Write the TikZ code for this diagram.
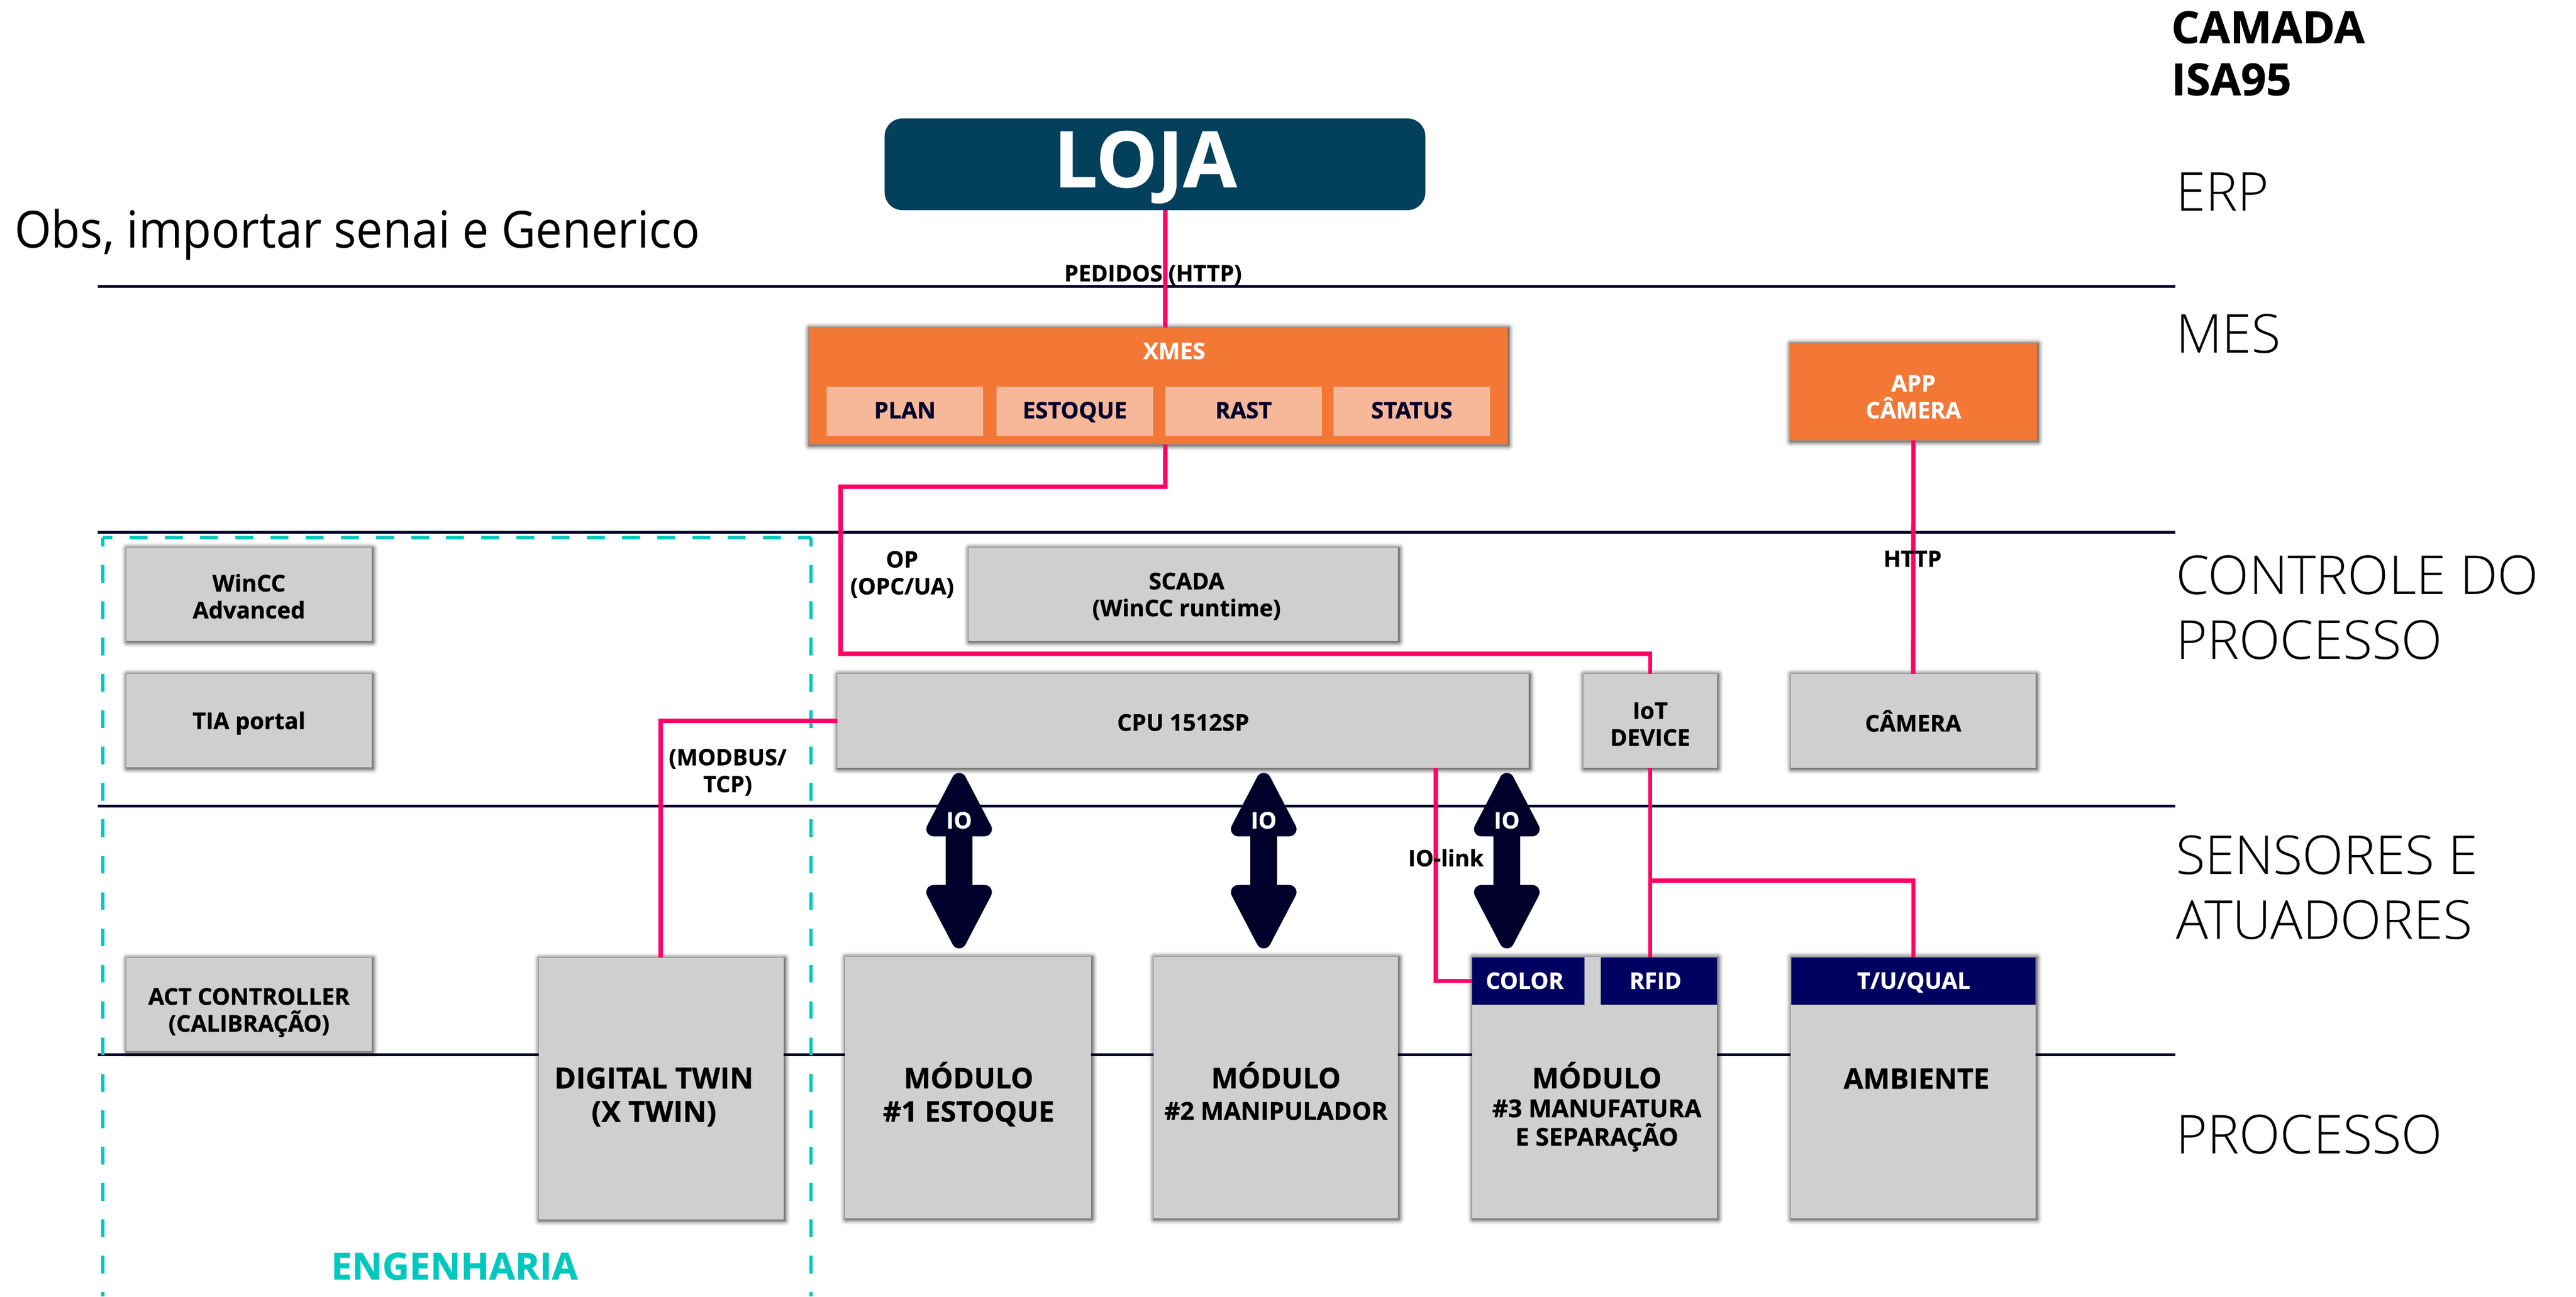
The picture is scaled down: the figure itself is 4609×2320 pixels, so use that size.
\documentclass[tikz,border=0pt]{standalone}
\usepackage{fontspec}
\setmainfont{Open Sans}[BoldFeatures={FakeBold=0.8}]
\newfontfamily\lightfont{Open Sans Light}
\newfontfamily\obsfont{Open Sans}[FakeStretch=0.925]
\usetikzlibrary{arrows.meta}
\definecolor{ink}{HTML}{00002B}
\definecolor{redl}{HTML}{FF0066}
\definecolor{teal2}{HTML}{00C8BE}
\definecolor{lojac}{HTML}{02405C}
\definecolor{orangec}{HTML}{F37735}
\definecolor{peach}{HTML}{F7B89A}
\definecolor{grayc}{HTML}{CFCFCF}
\definecolor{navy2}{HTML}{000060}
\tikzset{
  x=0.01cm,y=-0.01cm,
  shlayer/.style 2 args={preaction={draw=black,draw opacity=#1,line width=#2,line join=round,
    transform canvas={shift={(1.5,1.5)}}}},
  softshadow/.style={
    shlayer={.015}{6.26pt},shlayer={.03}{5.4pt},shlayer={.05}{4.55pt},shlayer={.07}{3.7pt},
    shlayer={.09}{2.85pt},shlayer={.12}{2pt},shlayer={.15}{1.14pt},shlayer={.2}{.46pt}},
  flat/.style={inner sep=0pt,outer sep=0pt,align=center},
  gbox/.style={flat,fill=grayc,softshadow},
  obox/.style={flat,fill=orangec,softshadow},
  pbox/.style={flat,fill=peach,text=ink,minimum width=2.8cm,minimum height=.88cm,text height=.714em,text depth=0pt,font=\fontsize{11.6}{13}\selectfont\bfseries},
  nbox/.style={flat,fill=navy2,minimum height=.85cm},
  nlabel/.style={flat,text=white,font=\fontsize{11.6}{13}\selectfont\bfseries},
  boxtext/.style={flat,text=black,font=\fontsize{11.7}{13.7}\selectfont\bfseries},
  small/.style={flat,text=black,font=\fontsize{11.5}{13.7}\selectfont\bfseries},
  big/.style={flat,text=black,font=\fontsize{14.4}{17}\selectfont\bfseries},
  mid/.style={flat,text=black,font=\fontsize{12.5}{14.5}\selectfont\bfseries},
  layer/.style={flat,anchor=west,align=left,text=black,font=\fontsize{27.3}{33}\selectfont\lightfont},
  sep/.style={draw=ink,line width=1.42pt},
  redw/.style={draw=redl,line width=2.2pt},
  dashh/.style={draw=teal2,line width=1.56pt,dash pattern=on 9.1pt off 8.8pt,dash phase=4.27pt},
  dashv/.style={draw=teal2,line width=1.56pt,dash pattern=on 9pt off 9.5pt,dash phase=4.55pt},
  ioarrow/.style={draw=ink,line width=13.4pt,
    {Triangle[length=37pt,width=36pt,round,line width=7.4pt]}-{Triangle[length=37pt,width=36pt,round,line width=7.4pt]},
    shorten <=2.6pt,shorten >=4.2pt},
}
\begin{document}
\begin{tikzpicture}
\useasboundingbox (0,0) rectangle (4609,2320);
\fill[white] (0,0) rectangle (4609,2320);
% coordinates
\coordinate (l1a) at (175,512);  \coordinate (l1b) at (3892,512);
\coordinate (l2a) at (175,952);  \coordinate (l2b) at (3892,952);
\coordinate (l3a) at (175,1442); \coordinate (l3b) at (3892,1442);
\coordinate (l4a) at (175,1887); \coordinate (l4b) at (3892,1887);
\coordinate (xa) at (2085,0);
\coordinate (xc) at (2569,0);
\coordinate (r1) at (1504,871);
\coordinate (r2) at (1504,1170);
\coordinate (r3) at (1182,1290);
\coordinate (r4) at (2953,1576);
\coordinate (xio1) at (1716,0);
\coordinate (xio2) at (2261,0);
\coordinate (xio3) at (2696,0);
\coordinate (da) at (184,2320);
\coordinate (db) at (184,962);
\coordinate (dc) at (1451,962);
\coordinate (dd) at (1451,2320);
% separators
\draw[sep] (l1a) -- (l1b);
\draw[sep] (l2a) -- (l2b);
\draw[sep] (l3a) -- (l3b);
\draw[sep] (l4a) -- (l4b);
% boxes
\node[flat,fill=lojac,rounded corners=.32cm,minimum width=9.67cm,minimum height=1.64cm] (loja) at (2066.5,294) {};
\node[flat,text=white,font=\fontsize{39.4}{42}\selectfont\bfseries] (lojat) at (2049,299) {LOJA};
\node[obox,minimum width=12.5cm,minimum height=2.09cm] (xmes) at (2072,690.5) {};
\node[nlabel] (xmest) at (2101,628) {XMES};
\node[pbox] (plan) at (1619,736) {PLAN};
\node[pbox] (estq) at (1923,736) {ESTOQUE};
\node[pbox] (rast) at (2225,736) {RAST};
\node[pbox] (stat) at (2526,736) {STATUS};
\node[obox,minimum width=4.42cm,minimum height=1.74cm] (app) at (3423.5,701) {};
\node[nlabel,font=\fontsize{11.6}{13.7}\selectfont\bfseries] (appt) at (3423.5,710) {APP\\CÂMERA};
\node[gbox,minimum width=4.39cm,minimum height=1.67cm] (wincc) at (445.5,1063.5) {};
\node[boxtext] (wincct) at (445.5,1067) {WinCC\\Advanced};
\node[gbox,minimum width=4.39cm,minimum height=1.67cm] (tia) at (445.5,1289.5) {};
\node[boxtext] (tiat) at (445.5,1294) {TIA portal};
\node[gbox,minimum width=4.39cm,minimum height=1.67cm] (act) at (445.5,1797.5) {};
\node[boxtext] (actt) at (445.5,1812) {ACT CONTROLLER\\(CALIBRAÇÃO)};
\node[gbox,minimum width=7.68cm,minimum height=1.67cm] (scada) at (2117,1063.5) {};
\node[boxtext] (scadat) at (2123,1067) {SCADA\\(WinCC runtime)};
\node[gbox,minimum width=12.37cm,minimum height=1.68cm] (cpu) at (2116.5,1290) {};
\node[boxtext] (cput) at (2117,1293) {CPU 1512SP};
\node[gbox,minimum width=2.39cm,minimum height=1.68cm] (iot) at (2952.5,1290) {};
\node[boxtext] (iott) at (2952.5,1296) {IoT\\DEVICE};
\node[gbox,minimum width=4.38cm,minimum height=1.68cm] (cam) at (3423,1290) {};
\node[boxtext] (camt) at (3423,1290) {CÂMERA};
\node[gbox,minimum width=4.38cm,minimum height=4.68cm] (twin) at (1183,1948) {};
\node[gbox,minimum width=4.40cm,minimum height=4.68cm] (m1) at (1732,1946) {};
\node[gbox,minimum width=4.37cm,minimum height=4.68cm] (m2) at (2282.5,1946) {};
\node[gbox,minimum width=4.38cm,minimum height=4.68cm] (m3) at (2853,1946) {};
\node[gbox,minimum width=4.38cm,minimum height=4.68cm] (amb) at (3423,1946) {};
\node[nbox,minimum width=2.01cm] (color) at (2734.5,1755.5) {};
\node[nbox,minimum width=2.08cm] (rfid) at (2968,1755.5) {};
\node[nbox,minimum width=4.37cm] (tuq) at (3423.5,1755.5) {};
% dashed engineering frame
\draw[dashh] (db) -- (dc);
\draw[dashv] (db) -- (da);
\draw[dashv] (dc) -- (dd);
% connectors
\draw[redw] (xa |- loja.south) -- (xa |- xmes.north);
\draw[redw] (xa |- xmes.south) -- (xa |- r1) -- (r1) -- (r2) -- (iot.north |- r2) -- (iot.north);
\draw[redw] (cpu.west) -- (r3) -- (r3 |- twin.north);
\draw[redw] (xc |- cpu.south) -- (xc |- color.west) -- (color.west);
\draw[redw] (iot.south) -- (iot.south |- rfid.north);
\draw[redw] (iot.south |- r4) -- (tuq.north |- r4) -- (tuq.north);
\draw[redw] (app.south) -- (cam.north);
\draw[ioarrow] (xio1 |- cpu.south) -- (xio1 |- m1.north);
\draw[ioarrow] (xio2 |- cpu.south) -- (xio2 |- m2.north);
\draw[ioarrow] (xio3 |- cpu.south) -- (xio3 |- m3.north);
% texts
\node[nlabel] (io1) at (1716,1468) {IO};
\node[nlabel] (io2) at (2261,1468) {IO};
\node[nlabel] (io3) at (2696,1468) {IO};
\node[nlabel] (colort) at (2728,1755) {COLOR};
\node[nlabel] (rfidt) at (2962,1755) {RFID};
\node[nlabel] (tuqt) at (3424,1758) {T/U/QUAL};
\node[big,font=\fontsize{14.8}{17}\selectfont\bfseries] (twint) at (1170,1963) {DIGITAL TWIN\\(X TWIN)};
\node[big] (m1a) at (1733,1924) {MÓDULO};
\node[big] (m1b) at (1733,1993) {\#1 ESTOQUE};
\node[big] (m2a) at (2283,1924) {MÓDULO};
\node[mid] (m2b) at (2283,1988) {\#2 MANIPULADOR};
\node[big] (m3a) at (2857,1924) {MÓDULO};
\node[mid] (m3b) at (2857,2014) {\#3 MANUFATURA\\E SEPARAÇÃO};
\node[big] (ambt) at (3429,1930) {AMBIENTE};
\node[small] (pedidos) at (2063,492) {PEDIDOS (HTTP)};
\node[small] (op) at (1614,1028) {OP\\(OPC/UA)};
\node[small] (http) at (3422,1000) {HTTP};
\node[small] (iolink) at (2587,1535) {IO-link};
\node[small] (modbus) at (1302,1382) {(MODBUS/\\TCP)};
\node[flat,text=teal2,font=\fontsize{19}{22}\selectfont\bfseries] (eng) at (813,2266) {ENGENHARIA};
\node[flat,anchor=west,align=left,text=black,font=\fontsize{22.5}{26.5}\selectfont\bfseries] (camada) at (3885,95.5) {CAMADA\\ISA95};
\node[layer] (erp) at (3893,343) {ERP};
\node[layer] (mes) at (3893,597) {MES};
\node[layer] (ctrl) at (3893,1087) {CONTROLE DO\\PROCESSO};
\node[layer] (sens) at (3893,1588) {SENSORES E\\ATUADORES};
\node[layer] (proc) at (3893,2030) {PROCESSO};
\node[flat,anchor=west,text=black,font=\fontsize{26}{30}\selectfont\obsfont] (obs) at (26,420) {Obs, importar senai e Generico};
\end{tikzpicture}
\end{document}
